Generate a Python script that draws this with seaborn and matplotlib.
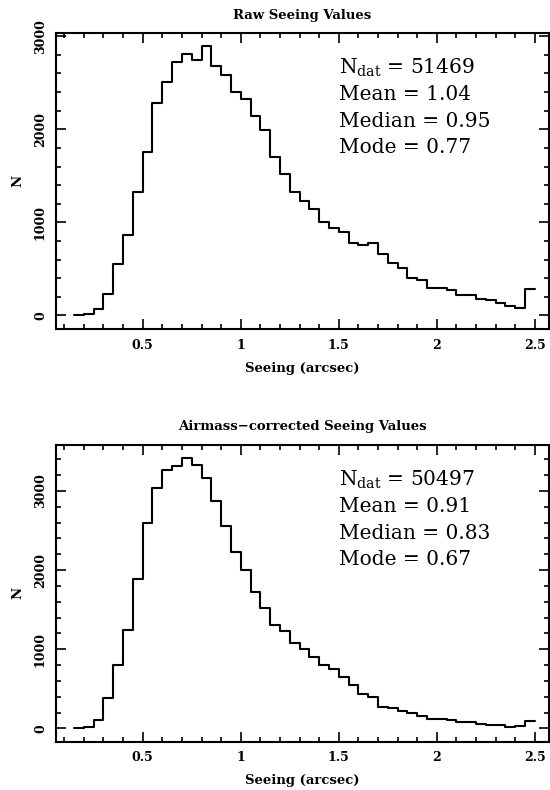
import numpy as np
import pandas as pd
import matplotlib
matplotlib.use("Agg")
import matplotlib.pyplot as plt
import seaborn as sns
from matplotlib.ticker import MultipleLocator

# ---- data ----
bin_width = 0.05
bin_left = np.round(np.arange(0.15, 2.4501, bin_width), 2)  # 47 bins, 0.15 .. 2.50

raw_counts = [5, 18, 72, 233, 548, 867, 1330, 1756, 2283, 2513,
              2724, 2810, 2749, 2900, 2685, 2588, 2405, 2330, 2140, 1989,
              1699, 1520, 1330, 1225, 1143, 1005, 935, 895, 774, 756,
              781, 659, 562, 512, 401, 376, 290, 297, 269, 222,
              215, 175, 168, 132, 97, 82, 286]

corr_counts = [5, 21, 105, 383, 796, 1243, 1892, 2596, 3038, 3266,
               3312, 3413, 3329, 3169, 2878, 2562, 2233, 1997, 1723, 1517,
               1310, 1232, 1075, 1005, 900, 800, 755, 653, 546, 432,
               400, 274, 257, 217, 190, 152, 114, 114, 105, 84,
               76, 55, 46, 42, 21, 30, 88]

titles = ["Raw Seeing Values", "Airmass\u2212corrected Seeing Values"]
stats = [
    {"ndat": "51469", "mean": "1.04", "median": "0.95", "mode": "0.77"},
    {"ndat": "50497", "mean": "0.91", "median": "0.83", "mode": "0.67"},
]
xlabel = "Seeing (arcsec)"
ylabel = "N"

# ---- style ----
sns.set_style("ticks")
plt.rcParams["font.family"] = ["DejaVu Serif"]
plt.rcParams["mathtext.fontset"] = "dejavuserif"
for k in ["text.color", "axes.edgecolor", "axes.labelcolor", "xtick.color", "ytick.color"]:
    plt.rcParams[k] = "black"

W, H = 550, 790
fig = plt.figure(figsize=(W / 100, H / 100), dpi=100)

def fig_rect(l, t, r, b):
    return [l / W, 1 - b / H, (r - l) / W, (b - t) / H]

axes = [fig.add_axes(fig_rect(56, 33.3, 549, 329.3)),
        fig.add_axes(fig_rect(56, 445, 549, 741.7))]
ylims = [(-150, 3032), (-169, 3582)]

edges = list(bin_left) + [round(bin_left[-1] + bin_width, 2)]
centers = bin_left + bin_width / 2

for ax, counts, title, st, ylim in zip(axes, [raw_counts, corr_counts], titles, stats, ylims):
    df = pd.DataFrame({"seeing": centers, "count": counts})
    sns.histplot(data=df, x="seeing", weights="count", bins=edges,
                 element="step", fill=False, color="black", linewidth=1.5, ax=ax)
    ax.set_xlim(0.058, 2.572)
    ax.set_ylim(*ylim)
    ax.xaxis.set_major_locator(MultipleLocator(0.5))
    ax.xaxis.set_minor_locator(MultipleLocator(0.1))
    ax.yaxis.set_major_locator(MultipleLocator(1000))
    ax.yaxis.set_minor_locator(MultipleLocator(200))
    ax.xaxis.set_major_formatter(plt.FuncFormatter(lambda v, p: f"{v:g}"))
    ax.tick_params(which="both", direction="in", top=True, right=True,
                   width=1.2, labelsize=9, colors="black")
    ax.tick_params(which="major", length=7)
    ax.tick_params(which="minor", length=3.5)
    ax.tick_params(axis="x", pad=7)
    ax.tick_params(axis="y", pad=6.5)
    for lab in ax.get_xticklabels() + ax.get_yticklabels():
        lab.set_fontweight("bold")
    plt.setp(ax.get_yticklabels(), rotation=90, va="center")
    for s in ax.spines.values():
        s.set_linewidth(1.5)
        s.set_color("black")
        s.set_visible(True)
    ax.set_title(title, fontsize=9.5, fontweight="bold", pad=10.5, color="black")
    ax.set_xlabel(xlabel, fontsize=9.5, fontweight="bold", labelpad=7, color="black")
    ax.set_ylabel(ylabel, fontsize=9.5, fontweight="bold", labelpad=7, color="black")

    tx = 0.574
    fs = 14.5
    ax.text(tx, 0.8625, r"$\mathrm{N_{dat}}$ = " + st["ndat"], transform=ax.transAxes,
            fontsize=fs, va="baseline", ha="left", color="black")
    ax.text(tx, 0.775, "Mean = " + st["mean"], transform=ax.transAxes,
            fontsize=fs, va="baseline", ha="left", color="black")
    ax.text(tx, 0.683, "Median = " + st["median"], transform=ax.transAxes,
            fontsize=fs, va="baseline", ha="left", color="black")
    ax.text(tx, 0.595, "Mode = " + st["mode"], transform=ax.transAxes,
            fontsize=fs, va="baseline", ha="left", color="black")

fig.savefig("out.png", dpi=100)
